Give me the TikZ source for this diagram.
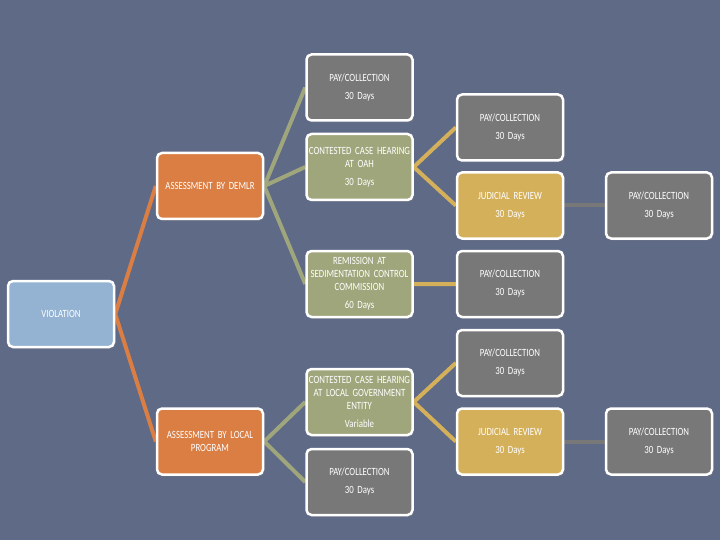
\documentclass[tikz,border=0pt]{standalone}
\usepackage{fontspec}
\setmainfont{Carlito}[FakeStretch=0.8, WordSpace=0.75]
\usetikzlibrary{positioning, shadows, backgrounds}
\hyphenpenalty=10000
\exhyphenpenalty=10000

\definecolor{slate}{RGB}{95,106,135}
\definecolor{skyblue}{RGB}{148,179,210}
\definecolor{rust}{RGB}{218,126,68}
\definecolor{sage}{RGB}{160,166,124}
\definecolor{stone}{RGB}{120,120,120}
\definecolor{ochre}{RGB}{213,176,90}

\tikzset{
  stage/.style={rectangle, rounded corners=5pt, draw=white, line width=2.5pt,
                minimum width=104pt, minimum height=66pt, text width=106pt,
                inner xsep=0pt, align=center, text=white,
                font=\fontsize{11}{13}\selectfont,
                drop shadow={opacity=0.35, shadow xshift=1.5pt, shadow yshift=-2pt}},
  start/.style={stage, fill=skyblue},
  assess/.style={stage, fill=rust},
  hearing/.style={stage, fill=sage},
  payment/.style={stage, fill=stone},
  review/.style={stage, fill=ochre},
  link/.style={line width=4pt}
}

\begin{document}
\begin{tikzpicture}[x=1pt, y=-1pt]
	\useasboundingbox (0,0) rectangle (720,540);

	\node[start] (viol) at (61,314) {VIOLATION};
	\node[assess] (demlr) at (210,186) {ASSESSMENT BY DEMLR};
	\node[assess] (local) at (210,441.5) {ASSESSMENT BY LOCAL\\PROGRAM};

	\node[payment] (payA) at (359.5,87.5) {PAY/COLLECTION\\[5pt]30 Days};
	\node[hearing] (oah) at (359.5,167) {CONTESTED CASE HEARING\\AT OAH\\[5pt]30 Days};
	\node[hearing] (remis) at (359.5,284) {REMISSION AT\\SEDIMENTATION CONTROL\\COMMISSION\\[5pt]60 Days};
	\node[hearing] (lgov) at (359.5,402) {CONTESTED CASE HEARING\\AT LOCAL GOVERNMENT\\ENTITY\\[5pt]Variable};
	\node[payment] (payB) at (359.5,482) {PAY/COLLECTION\\[5pt]30 Days};

	\node[payment] (payC) at (510,127.5) {PAY/COLLECTION\\[5pt]30 Days};
	\node[review] (jrA) at (510,205.5) {JUDICIAL REVIEW\\[5pt]30 Days};
	\node[payment] (payD) at (510,284) {PAY/COLLECTION\\[5pt]30 Days};
	\node[payment] (payE) at (510,363) {PAY/COLLECTION\\[5pt]30 Days};
	\node[review] (jrB) at (510,441.5) {JUDICIAL REVIEW\\[5pt]30 Days};

	\node[payment] (payF) at (659,205.5) {PAY/COLLECTION\\[5pt]30 Days};
	\node[payment] (payG) at (659,441.5) {PAY/COLLECTION\\[5pt]30 Days};

	\begin{pgfonlayer}{background}
		\fill[slate] (0,0) rectangle (720,540);
		\draw[link, rust] (viol.east) -- (demlr.west)
		                  (viol.east) -- (local.west);
		\draw[link, sage] (demlr.east) -- (payA.west)
		                  (demlr.east) -- (oah.west)
		                  (demlr.east) -- (remis.west)
		                  (local.east) -- (lgov.west)
		                  (local.east) -- (payB.west);
		\draw[link, ochre] (oah.east) -- (payC.west)
		                   (oah.east) -- (jrA.west)
		                   (remis.east) -- (payD.west)
		                   (lgov.east) -- (payE.west)
		                   (lgov.east) -- (jrB.west);
		\draw[link, stone] (jrA.east) -- (payF.west)
		                   (jrB.east) -- (payG.west);
	\end{pgfonlayer}
\end{tikzpicture}
\end{document}
